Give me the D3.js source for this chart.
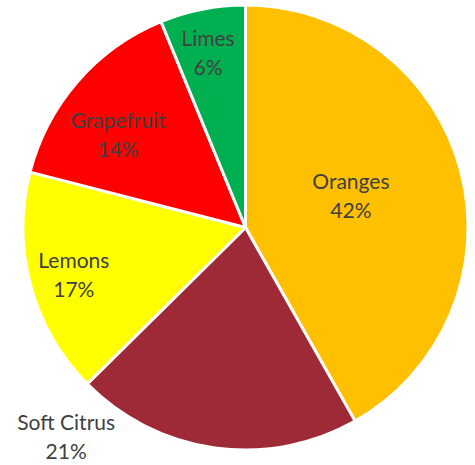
<!DOCTYPE html>
<html>
<head>
<meta charset="utf-8">
<script src="https://cdn.jsdelivr.net/npm/d3@7"></script>
<style>
  body { margin: 0; background: #fff; }
  svg text { font-family: Lato, "Noto Sans", sans-serif; font-size: 21px; fill: #404040; }
</style>
</head>
<body>
<svg id="chart" width="475" height="465"></svg>
<script>
// Fruit shares, clockwise from 12 o'clock (slice sizes as drawn)
var fruits = ["Oranges", "Soft Citrus", "Lemons", "Grapefruit", "Limes"];
var shares = [41.8, 20.8, 16.4, 14.8, 6.2];
// percent labels as printed on the chart
var pctLabels = ["42%", "21%", "17%", "14%", "6%"];
var colors = ["#FFC000", "#9E2A38", "#FFFF00", "#FF0000", "#00B050"];

// where each label sits: fraction of radius, and a small angle nudge (deg)
var labelRadius = [0.495, 1.238, 0.80, 0.707, 0.80];
var labelNudge = [-2.1, 32.7, -0.2, -5.2, -1];

var svg = d3.select("#chart");
var cx = 245.5, cy = 227.5, r = 222.5;

var g = svg.append("g").attr("transform", "translate(" + cx + "," + cy + ")");

var pie = d3.pie().sort(null).value(function(d) { return d; });
var arcs = pie(shares);

var arc = d3.arc().innerRadius(0).outerRadius(r);

g.selectAll("path")
  .data(arcs)
  .enter().append("path")
  .attr("d", arc)
  .attr("fill", function(d, i) { return colors[i]; })
  .attr("stroke", "#fff")
  .attr("stroke-width", 3)
  .attr("stroke-linejoin", "round");

// labels: name on top, percent under it
var labels = g.selectAll("g.lbl")
  .data(arcs)
  .enter().append("g")
  .attr("class", "lbl")
  .attr("transform", function(d, i) {
    var a = (d.startAngle + d.endAngle) / 2 + labelNudge[i] * Math.PI / 180;
    var rr = r * labelRadius[i];
    return "translate(" + (rr * Math.sin(a)) + "," + (-rr * Math.cos(a)) + ")";
  });

labels.append("text")
  .attr("text-anchor", "middle")
  .attr("y", -7)
  .text(function(d, i) { return fruits[i]; });

labels.append("text")
  .attr("text-anchor", "middle")
  .attr("y", 22)
  .text(function(d, i) { return pctLabels[i]; });
</script>
</body>
</html>
